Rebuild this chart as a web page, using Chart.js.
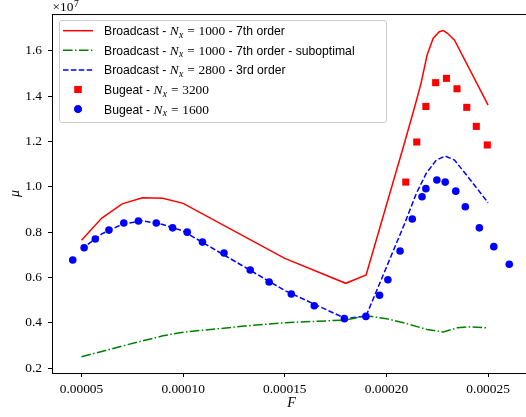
<!DOCTYPE html>
<html>
<head>
<meta charset="utf-8">
<script src="https://cdn.jsdelivr.net/npm/chart.js@4/dist/chart.umd.min.js"></script>
<style>
  html, body { margin: 0; padding: 0; background: #fff; overflow: hidden; }
  #wrap { position: relative; width: 536px; height: 417px; }
</style>
</head>
<body>
<div id="wrap"><canvas id="c"></canvas></div>
<script>
// Growth rate mu (in units of 1e7) versus forcing F.

// Broadcast, Nx = 1000, 7th order
const bc7F  = [5.0e-5, 6.0e-5, 7.0e-5, 8.0e-5, 9.0e-5, 1.0e-4, 1.5e-4, 1.8e-4, 1.9e-4,
               2.09e-4, 2.14e-4, 2.17e-4, 2.20e-4, 2.23e-4, 2.26e-4, 2.28e-4, 2.30e-4, 2.335e-4, 2.5e-4];
const bc7Mu = [0.764, 0.862, 0.925, 0.952, 0.950, 0.927, 0.684, 0.574, 0.611,
               1.198, 1.357, 1.457, 1.582, 1.656, 1.685, 1.690, 1.678, 1.648, 1.361];

// Broadcast, Nx = 1000, 7th order, suboptimal
const bc7sF  = [5.0e-5, 6.0e-5, 7.0e-5, 8.0e-5, 9.0e-5, 1.0e-4, 1.3e-4, 1.5e-4, 1.8e-4, 1.9e-4,
                2.0e-4, 2.1e-4, 2.2e-4, 2.28e-4, 2.35e-4, 2.4e-4, 2.5e-4];
const bc7sMu = [0.250, 0.273, 0.297, 0.320, 0.342, 0.358, 0.385, 0.400, 0.412, 0.431,
                0.418, 0.396, 0.370, 0.359, 0.378, 0.382, 0.377];

// Broadcast, Nx = 2800, 3rd order
const bc3F  = [5.0e-5, 6.0e-5, 7.0e-5, 8.0e-5, 9.0e-5, 1.0e-4, 1.5e-4, 1.8e-4, 1.9e-4,
               1.96e-4, 2.025e-4, 2.09e-4, 2.147e-4, 2.196e-4, 2.245e-4, 2.289e-4, 2.335e-4, 2.4e-4, 2.5e-4];
const bc3Mu = [0.725, 0.792, 0.835, 0.850, 0.834, 0.805, 0.542, 0.418, 0.430,
               0.559, 0.699, 0.839, 0.971, 1.060, 1.118, 1.136, 1.118, 1.045, 0.930];

// Bugeat, Nx = 3200
const bg3200F  = [2.095e-4, 2.149e-4, 2.194e-4, 2.242e-4, 2.295e-4, 2.347e-4, 2.395e-4, 2.442e-4, 2.496e-4];
const bg3200Mu = [1.021, 1.198, 1.355, 1.460, 1.479, 1.433, 1.351, 1.267, 1.185];

// Bugeat, Nx = 1600
const bg1600F  = [4.57e-5, 5.13e-5, 5.68e-5, 6.35e-5, 7.08e-5, 7.80e-5, 8.68e-5, 9.48e-5, 1.020e-4, 1.095e-4,
                  1.201e-4, 1.330e-4, 1.423e-4, 1.532e-4, 1.645e-4, 1.793e-4, 1.899e-4, 1.966e-4, 2.007e-4, 2.067e-4,
                  2.127e-4, 2.175e-4, 2.194e-4, 2.248e-4, 2.289e-4, 2.341e-4, 2.388e-4, 2.457e-4, 2.528e-4, 2.604e-4];
const bg1600Mu = [0.677, 0.731, 0.770, 0.809, 0.840, 0.849, 0.840, 0.819, 0.800, 0.756,
                  0.708, 0.633, 0.580, 0.527, 0.475, 0.418, 0.428, 0.521, 0.590, 0.717,
                  0.858, 0.956, 0.992, 1.030, 1.021, 0.981, 0.912, 0.819, 0.736, 0.658];

const xTicks = [0.00005, 0.00010, 0.00015, 0.00020, 0.00025];
const yTicks = [0.2, 0.4, 0.6, 0.8, 1.0, 1.2, 1.4, 1.6];

const seriesLabels = [
  'Broadcast - $N_x = 1000$ - 7th order',
  'Broadcast - $N_x = 1000$ - 7th order - suboptimal',
  'Broadcast - $N_x = 2800$ - 3rd order',
  'Bugeat - $N_x = 3200$',
  'Bugeat - $N_x = 1600$'
];

const pts = (xs, ys) => xs.map((x, i) => ({ x: x, y: ys[i] }));

const SERIF = '"Liberation Serif", "DejaVu Serif", serif';
const SANS = '"Liberation Sans", "DejaVu Sans", sans-serif';

const datasets = [
  { label: seriesLabels[0], data: pts(bc7F, bc7Mu), showLine: true, borderColor: '#ff0000',
    borderWidth: 1.5, pointRadius: 0, fill: false, order: 2 },
  { label: seriesLabels[1], data: pts(bc7sF, bc7sMu), showLine: true, borderColor: '#008000',
    borderWidth: 1.5, borderDash: [9.6, 2.4, 1.5, 2.4], pointRadius: 0, fill: false, order: 2 },
  { label: seriesLabels[2], data: pts(bc3F, bc3Mu), showLine: true, borderColor: '#0000ff',
    borderWidth: 1.5, borderDash: [5.5, 2.4], pointRadius: 0, fill: false, order: 2 },
  { label: seriesLabels[3], data: pts(bg3200F, bg3200Mu), showLine: false, pointStyle: 'rect',
    pointRadius: 5, pointBackgroundColor: '#ff0000', pointBorderWidth: 0, borderColor: '#ff0000', order: 1 },
  { label: seriesLabels[4], data: pts(bg1600F, bg1600Mu), showLine: false, pointStyle: 'circle',
    pointRadius: 3.8, pointBackgroundColor: '#0000ff', pointBorderWidth: 0, borderColor: '#0000ff', order: 0 }
];

// Draws a label where $...$ parts are typeset as simple math.
function drawMath(ctx, s, x, base) {
  let i = 0;
  while (i < s.length) {
    const ch = s[i];
    if (ch === ' ') { i++; continue; }
    if (ch === '_') {
      const sub = s[i + 1];
      ctx.font = 'italic 9.6px ' + SERIF;
      ctx.fillText(sub, x + 0.3, base + 2.6);
      x += ctx.measureText(sub).width + 0.6;
      i += 2; continue;
    }
    if (ch === '=') {
      x += 3.7;
      ctx.font = '13.4px ' + SERIF;
      ctx.fillText('=', x, base);
      x += ctx.measureText('=').width + 3.7;
      i++; continue;
    }
    if (/[A-Za-z]/.test(ch)) {
      ctx.font = 'italic 13.4px ' + SERIF;
    } else {
      ctx.font = '13.4px ' + SERIF;
    }
    ctx.fillText(ch, x, base);
    x += ctx.measureText(ch).width;
    i++;
  }
  return x;
}

function drawRich(ctx, label, x, base) {
  const parts = label.split('$');
  parts.forEach((p, k) => {
    if (k % 2 === 0) {
      ctx.font = '12.2px ' + SANS;
      ctx.fillText(p, x, base);
      x += ctx.measureText(p).width;
    } else {
      x = drawMath(ctx, p, x, base);
    }
  });
  return x;
}

const decorations = {
  id: 'decorations',
  afterDraw(chart) {
    const ctx = chart.ctx;
    const area = chart.chartArea;
    ctx.save();
    // top frame line
    ctx.strokeStyle = '#000';
    ctx.lineWidth = 1;
    ctx.beginPath();
    ctx.moveTo(area.left, area.top + 0.5);
    ctx.lineTo(area.right, area.top + 0.5);
    ctx.stroke();

    // axis multiplier
    ctx.fillStyle = '#000';
    ctx.textBaseline = 'alphabetic';
    ctx.textAlign = 'left';
    ctx.font = '13.4px ' + SERIF;
    ctx.fillText('\u00d710', area.left + 0.5, 11);
    const w = ctx.measureText('\u00d710').width;
    ctx.font = '9.6px ' + SERIF;
    ctx.fillText('7', area.left + 0.5 + w + 0.5, 6.5);

    // legend
    const bx = 59.5, by = 20.5, bw = 327, bh = 102;
    ctx.beginPath();
    if (ctx.roundRect) ctx.roundRect(bx, by, bw, bh, 2.5); else ctx.rect(bx, by, bw, bh);
    ctx.fillStyle = 'rgba(255,255,255,0.8)';
    ctx.fill();
    ctx.strokeStyle = '#cccccc';
    ctx.lineWidth = 1;
    ctx.stroke();

    const rowY0 = 30.7, rowDy = 19.6;
    chart.data.datasets.forEach((ds, i) => {
      const cy = rowY0 + i * rowDy;
      if (ds.showLine) {
        ctx.save();
        ctx.strokeStyle = ds.borderColor;
        ctx.lineWidth = ds.borderWidth;
        ctx.setLineDash(ds.borderDash || []);
        ctx.beginPath();
        ctx.moveTo(63, cy);
        ctx.lineTo(93, cy);
        ctx.stroke();
        ctx.restore();
      } else {
        ctx.fillStyle = ds.pointBackgroundColor;
        ctx.strokeStyle = ds.pointBackgroundColor;
        Chart.helpers.drawPoint(ctx, { pointStyle: ds.pointStyle, radius: ds.pointRadius, borderWidth: 0, rotation: 0 }, 78, cy);
        ctx.fill();
      }
      ctx.fillStyle = '#000';
      drawRich(ctx, ds.label, 104, cy + 4.4);
    });
    ctx.restore();
  }
};

new Chart(document.getElementById('c'), {
  type: 'scatter',
  data: { datasets: datasets },
  options: {
    responsive: true,
    maintainAspectRatio: false,
    devicePixelRatio: 1,
    animation: false,
    layout: { padding: { left: 0, top: 14, right: 2, bottom: 0 } },
    plugins: { legend: { display: false }, tooltip: { enabled: false } },
    elements: { line: { tension: 0 } },
    scales: {
      x: {
        type: 'linear',
        min: 3.55e-5,
        max: 2.711e-4,
        afterFit(s) { s.height = 44; },
        afterBuildTicks(s) { s.ticks = xTicks.map(v => ({ value: v })); },
        ticks: {
          callback: v => v.toFixed(5),
          font: { family: SERIF, size: 13.4 },
          color: '#000',
          padding: 4,
          maxRotation: 0,
          autoSkip: false
        },
        grid: { drawOnChartArea: false, drawTicks: true, tickLength: 4, tickColor: '#000', tickWidth: 1 },
        border: { display: true, color: '#000', width: 1 },
        title: { display: true, text: 'F', font: { family: SERIF, size: 14, style: 'italic' },
                 color: '#000', padding: { top: 0, bottom: 5.5 } }
      },
      y: {
        type: 'linear',
        min: 0.178,
        max: 1.763,
        afterFit(s) { s.width = 52; },
        afterBuildTicks(s) { s.ticks = yTicks.map(v => ({ value: v })); },
        ticks: {
          callback: v => v.toFixed(1),
          font: { family: SERIF, size: 13.4 },
          color: '#000',
          padding: 6,
          autoSkip: false
        },
        grid: { drawOnChartArea: false, drawTicks: true, tickLength: 4, tickColor: '#000', tickWidth: 1 },
        border: { display: true, color: '#000', width: 1 },
        title: { display: true, text: '\u03bc', font: { family: SERIF, size: 14, style: 'italic' },
                 color: '#000', padding: { top: 6.5, bottom: 0 } }
      }
    }
  },
  plugins: [decorations]
});
</script>
</body>
</html>
